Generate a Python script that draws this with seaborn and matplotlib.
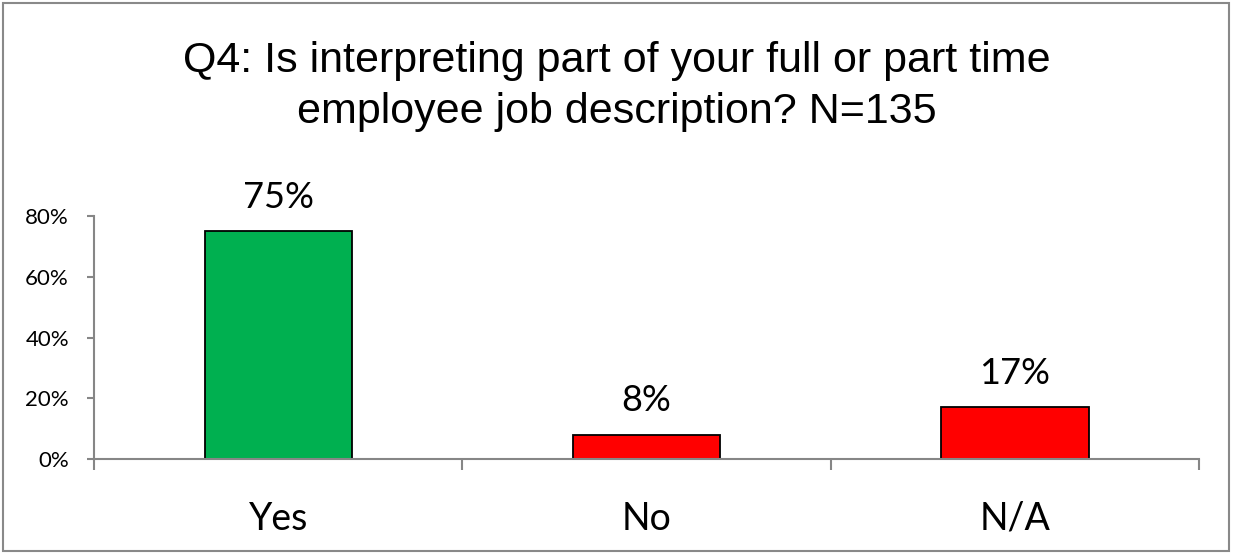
import matplotlib
matplotlib.use("Agg")
import matplotlib.pyplot as plt
from matplotlib.patches import Rectangle
from matplotlib.ticker import PercentFormatter, FixedLocator
import seaborn as sns

# Survey answers and their shares
categories = ["Yes", "No", "N/A"]
shares = [0.75, 0.08, 0.17]
bar_colors = ["#00B050", "#FF0000", "#FF0000"]
title = "Q4: Is interpreting part of your full or part time\nemployee job description? N=135"

sns.set_theme(style="white")
plt.rcParams["font.family"] = ["Lato", "DejaVu Sans"]

fig = plt.figure(figsize=(12.33, 5.54), dpi=100)
ax = fig.add_axes([94 / 1233, 1 - 459 / 554, (1199 - 94) / 1233, (459 - 216) / 554])

sns.barplot(x=categories, y=shares, hue=categories, palette=bar_colors,
            legend=False, width=0.4, edgecolor="black", linewidth=1.3,
            saturation=1, ax=ax)

ax.set_xlim(-0.5, len(categories) - 0.5)
ax.set_ylim(0, 0.8)
ax.set_yticks([0, 0.2, 0.4, 0.6, 0.8])
ax.yaxis.set_major_formatter(PercentFormatter(1.0, decimals=0))
ax.set_xlabel("")
ax.set_ylabel("")

axis_gray = "#868686"
for side in ("top", "right"):
    ax.spines[side].set_visible(False)
for side in ("left", "bottom"):
    ax.spines[side].set_color(axis_gray)
    ax.spines[side].set_linewidth(1.5)

ax.tick_params(axis="y", which="major", direction="out", length=5, width=1.5,
               color=axis_gray, labelsize=16, pad=13, left=True, labelcolor="black")
ax.tick_params(axis="x", which="major", length=0, labelsize=27, pad=30,
               labelcolor="black")
# category separators along the baseline
ax.xaxis.set_minor_locator(FixedLocator([-0.5, 0.5, 1.5, 2.5]))
ax.tick_params(axis="x", which="minor", direction="out", length=8, width=1.5,
               color=axis_gray, bottom=True)

for i, v in enumerate(shares):
    ax.annotate(f"{v:.0%}", xy=(i, v), xytext=(0, 17), textcoords="offset points",
                ha="center", va="baseline", fontsize=26, color="black")

fig.text(0.5, 1 - 41 / 554, title, ha="center", va="top", fontsize=31,
         family=["Liberation Sans", "DejaVu Sans"], linespacing=1.36, color="black")

fig.patches.append(Rectangle((3 / 1233, 3 / 554), 1226 / 1233, 548 / 554,
                             transform=fig.transFigure, fill=False,
                             edgecolor="#898989", linewidth=1.5))

fig.savefig("out.png", dpi=100)
